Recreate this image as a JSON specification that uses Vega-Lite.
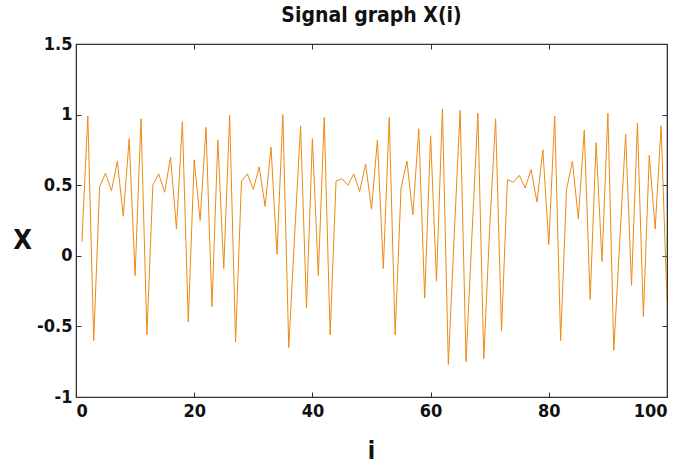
{
  "$schema": "https://vega.github.io/schema/vega-lite/v6.json",
  "autosize": "none",
  "width": 591,
  "height": 353,
  "padding": {"left": 76, "top": 44, "right": 31, "bottom": 69},
  "background": "white",
  "title": {
    "text": "Signal graph X(i)",
    "font": "Liberation Sans Narrow, DejaVu Sans Condensed, Liberation Sans, Arial",
    "fontSize": 21,
    "fontWeight": "bold",
    "color": "#111111",
    "anchor": "middle",
    "offset": 9
  },
  "config": {
    "view": {"stroke": "#333333", "strokeWidth": 1.2},
    "axis": {
      "grid": false,
      "domainColor": "#333333",
      "tickColor": "#333333",
      "labelFont": "Liberation Sans Narrow, DejaVu Sans Condensed, Liberation Sans, Arial",
      "labelFontSize": 18,
      "labelFontWeight": "bold",
      "labelColor": "#111111",
      "titleFont": "Liberation Sans Narrow, DejaVu Sans Condensed, Liberation Sans, Arial",
      "titleFontWeight": "bold",
      "titleColor": "#111111"
    }
  },
  "data": {
    "values": [
      {"i": 1, "x": 0.10}, {"i": 2, "x": 0.99}, {"i": 3, "x": -0.60}, {"i": 4, "x": 0.49}, {"i": 5, "x": 0.585},
      {"i": 6, "x": 0.46}, {"i": 7, "x": 0.67}, {"i": 8, "x": 0.28}, {"i": 9, "x": 0.83}, {"i": 10, "x": -0.14},
      {"i": 11, "x": 0.97}, {"i": 12, "x": -0.56}, {"i": 13, "x": 0.50}, {"i": 14, "x": 0.58}, {"i": 15, "x": 0.45},
      {"i": 16, "x": 0.70}, {"i": 17, "x": 0.19}, {"i": 18, "x": 0.95}, {"i": 19, "x": -0.47}, {"i": 20, "x": 0.68},
      {"i": 21, "x": 0.25}, {"i": 22, "x": 0.91}, {"i": 23, "x": -0.36}, {"i": 24, "x": 0.82}, {"i": 25, "x": -0.09},
      {"i": 26, "x": 0.995}, {"i": 27, "x": -0.61}, {"i": 28, "x": 0.53}, {"i": 29, "x": 0.58}, {"i": 30, "x": 0.47},
      {"i": 31, "x": 0.63}, {"i": 32, "x": 0.35}, {"i": 33, "x": 0.77}, {"i": 34, "x": 0.01}, {"i": 35, "x": 1.00},
      {"i": 36, "x": -0.65}, {"i": 37, "x": 0.15}, {"i": 38, "x": 0.92}, {"i": 39, "x": -0.37}, {"i": 40, "x": 0.83},
      {"i": 41, "x": -0.14}, {"i": 42, "x": 0.98}, {"i": 43, "x": -0.56}, {"i": 44, "x": 0.53}, {"i": 45, "x": 0.545},
      {"i": 46, "x": 0.50}, {"i": 47, "x": 0.58}, {"i": 48, "x": 0.455}, {"i": 49, "x": 0.65}, {"i": 50, "x": 0.33},
      {"i": 51, "x": 0.82}, {"i": 52, "x": -0.09}, {"i": 53, "x": 0.98}, {"i": 54, "x": -0.56}, {"i": 55, "x": 0.48},
      {"i": 56, "x": 0.67}, {"i": 57, "x": 0.29}, {"i": 58, "x": 0.90}, {"i": 59, "x": -0.30}, {"i": 60, "x": 0.85},
      {"i": 61, "x": -0.18}, {"i": 62, "x": 1.04}, {"i": 63, "x": -0.77}, {"i": 64, "x": 0.15}, {"i": 65, "x": 1.03},
      {"i": 66, "x": -0.75}, {"i": 67, "x": 0.15}, {"i": 68, "x": 1.01}, {"i": 69, "x": -0.73}, {"i": 70, "x": 0.20},
      {"i": 71, "x": 0.97}, {"i": 72, "x": -0.53}, {"i": 73, "x": 0.54}, {"i": 74, "x": 0.52}, {"i": 75, "x": 0.57},
      {"i": 76, "x": 0.48}, {"i": 77, "x": 0.61}, {"i": 78, "x": 0.38}, {"i": 79, "x": 0.75}, {"i": 80, "x": 0.08},
      {"i": 81, "x": 0.99}, {"i": 82, "x": -0.60}, {"i": 83, "x": 0.47}, {"i": 84, "x": 0.67}, {"i": 85, "x": 0.26},
      {"i": 86, "x": 0.89}, {"i": 87, "x": -0.31}, {"i": 88, "x": 0.80}, {"i": 89, "x": -0.04}, {"i": 90, "x": 1.01},
      {"i": 91, "x": -0.67}, {"i": 92, "x": 0.10}, {"i": 93, "x": 0.86}, {"i": 94, "x": -0.21}, {"i": 95, "x": 0.94},
      {"i": 96, "x": -0.43}, {"i": 97, "x": 0.71}, {"i": 98, "x": 0.19}, {"i": 99, "x": 0.92}, {"i": 100, "x": -0.32}
    ]
  },
  "resolve": {"axis": {"x": "independent", "y": "independent"}},
  "layer": [
    {
      "mark": {"type": "line", "color": "#EC8A14", "strokeWidth": 1, "clip": true},
      "encoding": {
        "x": {
          "field": "i", "type": "quantitative",
          "scale": {"domain": [0, 100], "nice": false, "zero": false},
          "axis": {
            "orient": "bottom", "values": [0, 20, 40, 60, 80, 100], "tickSize": -5,
            "labelPadding": 10, "title": "i", "titleFontSize": 24,
            "titleX": 295, "titleY": 54, "titleBaseline": "middle", "titleAnchor": "middle"
          }
        },
        "y": {
          "field": "x", "type": "quantitative",
          "scale": {"domain": [-1, 1.5], "nice": false, "zero": false},
          "axis": {
            "orient": "left", "values": [-1, -0.5, 0, 0.5, 1, 1.5], "tickSize": -5,
            "labelPadding": 9, "labelExpr": "datum.value + ''", "title": "X", "titleFontSize": 27, "titleAngle": 0,
            "titleX": -54, "titleY": 196, "titleBaseline": "middle", "titleAlign": "center"
          }
        }
      }
    },
    {
      "mark": {"type": "line", "opacity": 0},
      "encoding": {
        "x": {
          "field": "i", "type": "quantitative",
          "axis": {"orient": "top", "values": [20, 40, 60, 80], "tickSize": -5, "labels": false, "title": null}
        },
        "y": {
          "field": "x", "type": "quantitative",
          "axis": {"orient": "right", "values": [-0.5, 0, 0.5, 1], "tickSize": -5, "labels": false, "title": null}
        }
      }
    }
  ]
}
